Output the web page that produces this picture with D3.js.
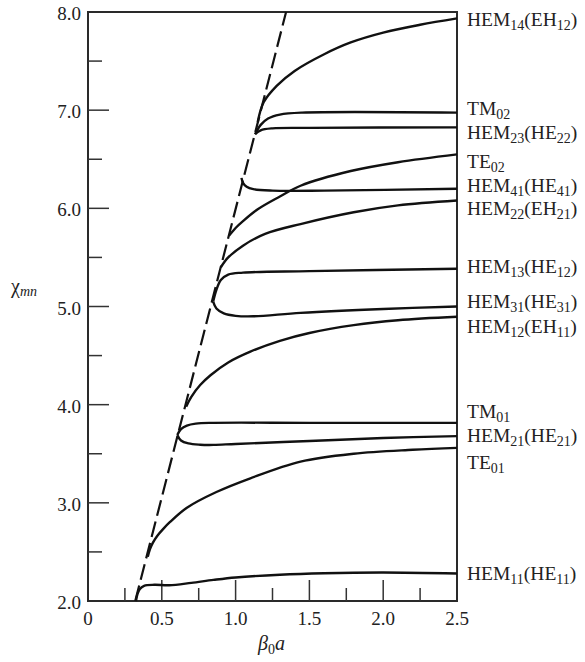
<!DOCTYPE html>
<html><head><meta charset="utf-8">
<script src="https://cdn.jsdelivr.net/npm/d3@7"></script>
<style>body{margin:0;background:#fff}svg{display:block}text{font-family:"Liberation Serif","Times New Roman",serif;fill:#222}</style>
</head><body><div id="chart"></div>
<script>
// Data (beta0*a, chi_mn)
const HEM11 = [[0.325,2.0],[0.335,2.07],[0.35,2.12],[0.38,2.155],[0.45,2.165],[0.55,2.16],[0.7,2.185],[0.85,2.215],[1.0,2.24],[1.3,2.268],[1.6,2.283],[2.0,2.29],[2.5,2.28]];
const TE01 = [[0.405,2.45],[0.42,2.53],[0.44,2.595],[0.47,2.665],[0.51,2.735],[0.556,2.805],[0.67,2.95],[0.87,3.11],[1.1,3.25],[1.44,3.42],[1.8,3.5],[2.2,3.54],[2.5,3.56]];
const HEM21 = [[0.605,3.69],[0.63,3.635],[0.68,3.605],[0.76,3.592],[0.85,3.59],[1.0,3.6],[1.5,3.63],[2.0,3.66],[2.5,3.68]];
const TM01 = [[0.605,3.69],[0.63,3.75],[0.67,3.787],[0.73,3.807],[0.85,3.815],[1.5,3.815],[2.5,3.815]];
const HEM12 = [[0.665,3.98],[0.7,4.08],[0.76,4.2],[0.83,4.3],[0.95,4.43],[1.1,4.54],[1.3,4.65],[1.5,4.73],[1.8,4.81],[2.1,4.86],[2.5,4.895]];
const HEM31 = [[0.848,5.05],[0.87,4.98],[0.92,4.93],[1.0,4.905],[1.12,4.9],[1.44,4.935],[2.0,4.975],[2.5,5.0]];
const HEM13 = [[0.848,5.05],[0.87,5.17],[0.9,5.27],[0.95,5.325],[1.05,5.345],[1.5,5.36],[2.5,5.385]];
const HEM22 = [[0.9,5.4],[0.95,5.5],[1.05,5.62],[1.2,5.74],[1.44,5.84],[1.8,5.96],[2.1,6.03],[2.5,6.08]];
const HEM41 = [[1.04,6.31],[1.05,6.26],[1.075,6.22],[1.12,6.195],[1.25,6.18],[1.6,6.18],[2.5,6.2]];
const TE02 = [[0.955,5.72],[1.0,5.8],[1.05,5.87],[1.15,5.99],[1.3,6.12],[1.44,6.23],[1.78,6.38],[2.1,6.47],[2.5,6.55]];
const HEM23 = [[1.132,6.755],[1.17,6.795],[1.25,6.815],[1.5,6.82],[2.5,6.825]];
const TM02 = [[1.132,6.755],[1.17,6.85],[1.22,6.915],[1.3,6.955],[1.45,6.975],[2.5,6.975]];
const HEM14 = [[1.15,6.88],[1.19,7.08],[1.28,7.25],[1.4,7.4],[1.6,7.57],[1.78,7.69],[2.0,7.79],[2.25,7.87],[2.5,7.935]];
const lightLine = [[0.32,2.0],[1.342,8.0]];
const curves = [HEM11,TE01,HEM21,TM01,HEM12,HEM31,HEM13,HEM22,HEM41,TE02,HEM23,TM02,HEM14];
// labels: [main, sub, paren main, paren sub]
const labelText = [
 ["HEM","14","EH","12"],["TM","02",null,null],["HEM","23","HE","22"],["TE","02",null,null],
 ["HEM","41","HE","41"],["HEM","22","EH","21"],["HEM","13","HE","12"],["HEM","31","HE","31"],
 ["HEM","12","EH","11"],["TM","01",null,null],["HEM","21","HE","21"],["TE","01",null,null],["HEM","11","HE","11"]];
const labelY = [7.918,7.01,6.767,6.472,6.228,5.993,5.402,5.045,4.79,3.925,3.68,3.405,2.275];
const xMajor = [0,0.5,1.0,1.5,2.0,2.5];
const xMajorLabels = ["0","0.5","1.0","1.5","2.0","2.5"];
const xMinor = [0.25,0.75,1.25,1.75,2.25];
const yMajor = [2,3,4,5,6,7,8];
const yMajorLabels = ["2.0","3.0","4.0","5.0","6.0","7.0","8.0"];
const yMinor = [2.5,3.5,4.5,5.5,6.5,7.5];

const W=585,H=662;
const svg=d3.select("#chart").append("svg").attr("width",W).attr("height",H);
const x=d3.scaleLinear().domain([0,2.5]).range([88,457]);
const y=d3.scaleLinear().domain([2,8]).range([601,12]);

// frame
svg.append("rect").attr("x",x(0)).attr("y",y(8)).attr("width",x(2.5)-x(0)).attr("height",y(2)-y(8))
  .attr("fill","none").attr("stroke","#2a2a2a").attr("stroke-width",2);

// ticks
const tk=svg.append("g").attr("stroke","#333").attr("stroke-width",1.5);
yMajor.slice(1,-1).forEach(v=>tk.append("line").attr("x1",x(0)).attr("x2",x(0)+21).attr("y1",y(v)).attr("y2",y(v)));
yMinor.forEach(v=>tk.append("line").attr("x1",x(0)).attr("x2",x(0)+14).attr("y1",y(v)).attr("y2",y(v)));
xMajor.slice(1,-1).forEach(v=>tk.append("line").attr("x1",x(v)).attr("x2",x(v)).attr("y1",y(2)).attr("y2",y(2)-21));
xMinor.forEach(v=>tk.append("line").attr("x1",x(v)).attr("x2",x(v)).attr("y1",y(2)).attr("y2",y(2)-13));

yMajor.forEach((v,i)=>svg.append("text").attr("x",81).attr("y",y(v)+8).attr("text-anchor","end")
  .attr("font-size",19).text(yMajorLabels[i]));
xMajor.forEach((v,i)=>svg.append("text").attr("x",x(v)).attr("y",y(2)+24).attr("text-anchor","middle")
  .attr("font-size",19).text(xMajorLabels[i]));

// axis titles
const xt=svg.append("text").attr("x",258).attr("y",650).attr("font-size",20);
xt.append("tspan").attr("font-style","italic").text("β");
xt.append("tspan").attr("font-size",14).attr("dy",4).text("0");
xt.append("tspan").attr("font-style","italic").attr("dy",-4).text("a");
const yt=svg.append("text").attr("x",11).attr("y",293).attr("font-size",20);
yt.append("tspan").text("χ");
yt.append("tspan").attr("font-style","italic").attr("font-size",14).attr("dy",3).text("mn");

// dashed light line
svg.append("path").datum(lightLine).attr("fill","none").attr("stroke","#111").attr("stroke-width",2.2)
  .attr("stroke-dasharray","16,6").attr("d",d3.line().x(d=>x(d[0])).y(d=>y(d[1])));

const line=d3.line().x(d=>x(d[0])).y(d=>y(d[1])).curve(d3.curveCatmullRom.alpha(0.5));
svg.append("g").selectAll("path").data(curves).join("path").attr("fill","none")
  .attr("stroke","#111").attr("stroke-width",2.4).attr("stroke-linejoin","round").attr("d",line);

// right labels
labelText.forEach((t,i)=>{
  const tx=svg.append("text").attr("x",467).attr("y",y(labelY[i])+6).attr("font-size",19.5);
  tx.append("tspan").text(t[0]);
  tx.append("tspan").attr("font-size",14).attr("dy",4).text(t[1]);
  if(t[2]){
    tx.append("tspan").attr("dy",-4).text("("+t[2]);
    tx.append("tspan").attr("font-size",14).attr("dy",4).text(t[3]);
    tx.append("tspan").attr("dy",-4).text(")");
  }
});
</script></body></html>
